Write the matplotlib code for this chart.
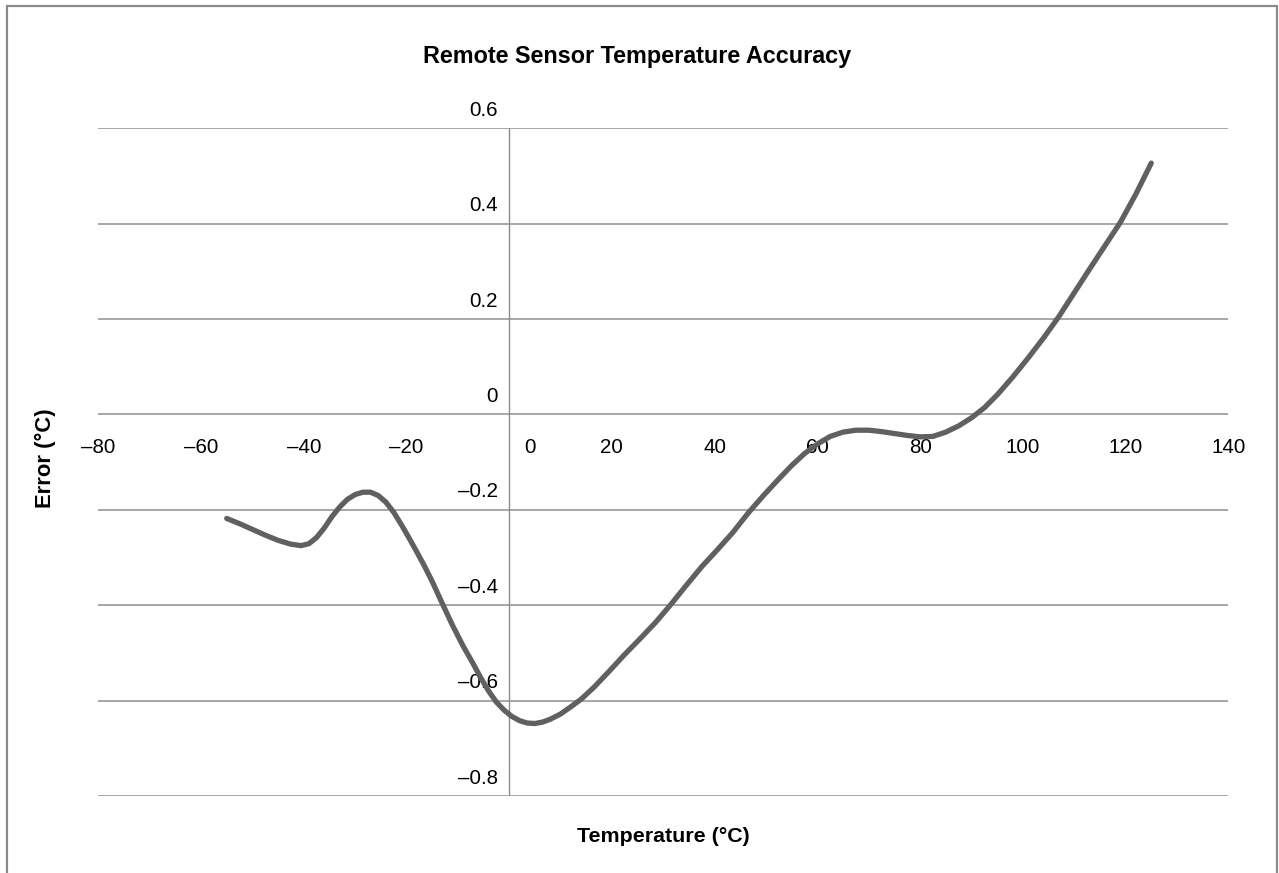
import numpy as np
import matplotlib
matplotlib.use("Agg")
import matplotlib.pyplot as plt
from matplotlib.patches import Rectangle
from matplotlib.transforms import offset_copy

plt.rcParams['font.family'] = ['Liberation Sans', 'DejaVu Sans']

# values
temp = [-55.0, -52.5, -50.0, -47.5, -45.0, -42.5, -40.5, -39.0, -37.5, -36.0,
        -34.5, -33.0, -31.5, -30.0, -28.5, -27.0, -25.5, -24.0, -22.5, -21.0,
        -19.5, -18.0, -16.5, -15.0, -13.0, -11.0, -9.0, -7.0, -5.5, -4.0,
        -2.5, -1.0, 0.5, 2.0, 3.5, 5.0, 6.5, 8.0, 10.0, 12.0,
        14.0, 16.5, 19.5, 22.5, 25.5, 28.5, 31.5, 34.5, 37.5, 40.5,
        43.5, 46.5, 49.5, 52.5, 55.0, 57.5, 60.0, 62.5, 65.0, 67.5,
        70.0, 72.5, 75.0, 77.5, 80.0, 82.5, 85.0, 87.5, 90.0, 92.5,
        95.0, 98.0, 101.0, 104.0, 107.0, 110.0, 113.0, 116.0, 119.0, 122.0,
        125.0]
error = [-0.218, -0.229, -0.241, -0.253, -0.264, -0.272, -0.275, -0.271, -0.258, -0.238,
         -0.214, -0.194, -0.178, -0.168, -0.163, -0.163, -0.170, -0.184, -0.205, -0.231,
         -0.259, -0.288, -0.318, -0.350, -0.397, -0.443, -0.485, -0.523, -0.553, -0.580,
         -0.603, -0.620, -0.633, -0.642, -0.647, -0.648, -0.645, -0.639, -0.628, -0.613,
         -0.597, -0.572, -0.538, -0.503, -0.470, -0.436, -0.398, -0.358, -0.319, -0.284,
         -0.248, -0.207, -0.170, -0.135, -0.107, -0.082, -0.062, -0.046, -0.037, -0.033,
         -0.033, -0.036, -0.040, -0.044, -0.047, -0.046, -0.037, -0.024, -0.007, 0.014,
         0.041, 0.078, 0.118, 0.160, 0.205, 0.255, 0.305, 0.354, 0.403, 0.462,
         0.527]

x_ticks = [-80, -60, -40, -20, 0, 20, 40, 60, 80, 100, 120, 140]
y_ticks = [-0.8, -0.6, -0.4, -0.2, 0, 0.2, 0.4, 0.6]


def fmt(v):
    # Excel style minus (en dash)
    s = ('%g' % v)
    return s.replace('-', '\u2013')


W, H = 1279, 873
fig = plt.figure(figsize=(W / 100, H / 100), dpi=100)
ax = fig.add_axes([98.3 / W, 1 - 796 / H, (1228.3 - 98.3) / W, (796 - 128.3) / H])
ax.set_xlim(-80, 140)
ax.set_ylim(-0.8, 0.6)
for s in ax.spines.values():
    s.set_visible(False)
ax.set_xticks([])
ax.set_yticks([])

# horizontal gridlines and vertical axis through x = 0
for y in y_ticks:
    ax.axhline(y, color='#a0a0a0', lw=1.3, zorder=1)
ax.axvline(0, color='#8c8c8c', lw=1.0, zorder=1)

ax.plot(temp, error, color='#606060', lw=3.8, solid_capstyle='round',
        solid_joinstyle='round', zorder=3)

# tick labels sit on the crossing axes
for x in x_ticks:
    dx = 21 if x == 0 else 0
    tr = offset_copy(ax.transData, fig=fig, x=dx, y=-33, units='dots')
    ax.text(x, 0, fmt(x), transform=tr, ha='center', va='center', fontsize=14.8,
            color='black', zorder=2)
for y in y_ticks:
    tr = offset_copy(ax.transData, fig=fig, x=-11, y=18, units='dots')
    ax.text(0, y, fmt(y), transform=tr, ha='right', va='center', fontsize=14.8,
            color='black', zorder=2)

fig.text(637.5 / W, 1 - 56.7 / H, 'Remote Sensor Temperature Accuracy',
         ha='center', va='center', fontsize=16.8, fontweight='bold')
fig.text(663 / W, 1 - 836.7 / H, 'Temperature (°C)', ha='center', va='center',
         fontsize=15.4, fontweight='bold')
fig.text(45 / W, 1 - 458.3 / H, 'Error (°C)', ha='center', va='center',
         fontsize=15.8, fontweight='bold', rotation=90)

# outer chart border
fig.patches.append(Rectangle((6.5 / W, -0.02), (1276.5 - 6.5) / W, 1.02 - 5.5 / H,
                             transform=fig.transFigure, fill=False,
                             ec='#8a8a8a', lw=1.6))

fig.savefig('out.png', dpi=100)
